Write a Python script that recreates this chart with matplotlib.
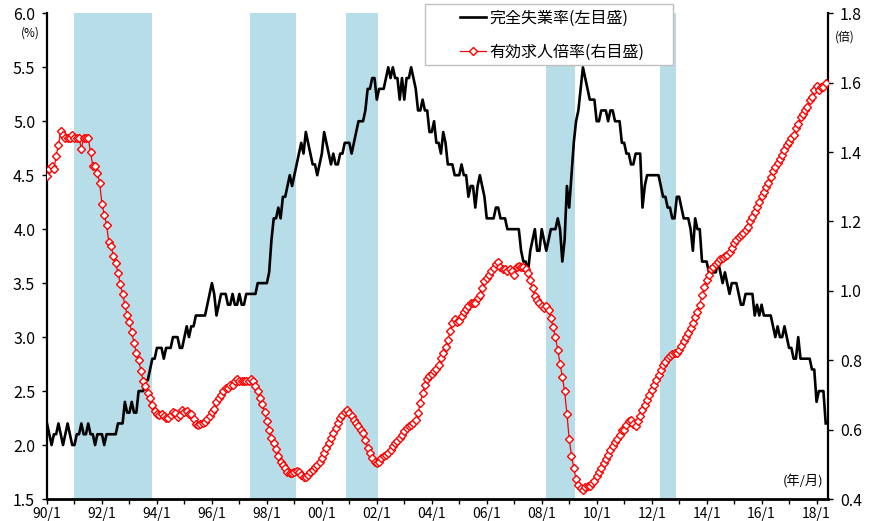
import matplotlib
matplotlib.use("Agg")
import matplotlib.pyplot as plt
from matplotlib.lines import Line2D
from matplotlib.patches import Rectangle
import numpy as np
import pandas as pd

plt.rcParams["font.family"] = ["Noto Sans CJK JP", "DejaVu Sans"]

RED = "#FF0000"
BAND = "#B7DDE8"
FRAME = "#BFBFBF"

# 完全失業率 (%), monthly from 1990/1 to 2018/5
unemployment = [
    2.2, 2.1, 2.0, 2.1, 2.1, 2.2, 2.1, 2.0, 2.1, 2.2, 2.1, 2.0,  # 1990
    2.0, 2.1, 2.1, 2.2, 2.1, 2.1, 2.2, 2.1, 2.1, 2.0, 2.1, 2.1,  # 1991
    2.1, 2.0, 2.1, 2.1, 2.1, 2.1, 2.1, 2.2, 2.2, 2.2, 2.4, 2.3,  # 1992
    2.3, 2.4, 2.3, 2.3, 2.5, 2.5, 2.5, 2.6, 2.6, 2.7, 2.8, 2.8,  # 1993
    2.9, 2.9, 2.9, 2.8, 2.9, 2.9, 2.9, 3.0, 3.0, 3.0, 2.9, 2.9,  # 1994
    3.0, 3.1, 3.0, 3.1, 3.1, 3.2, 3.2, 3.2, 3.2, 3.2, 3.3, 3.4,  # 1995
    3.5, 3.4, 3.2, 3.3, 3.4, 3.4, 3.4, 3.3, 3.3, 3.4, 3.3, 3.3,  # 1996
    3.4, 3.3, 3.3, 3.4, 3.4, 3.4, 3.4, 3.4, 3.5, 3.5, 3.5, 3.5,  # 1997
    3.5, 3.6, 3.9, 4.1, 4.1, 4.2, 4.1, 4.3, 4.3, 4.4, 4.5, 4.4,  # 1998
    4.5, 4.6, 4.7, 4.8, 4.7, 4.9, 4.8, 4.7, 4.6, 4.6, 4.5, 4.6,  # 1999
    4.7, 4.9, 4.8, 4.7, 4.6, 4.7, 4.6, 4.6, 4.7, 4.7, 4.8, 4.8,  # 2000
    4.8, 4.7, 4.8, 4.9, 5.0, 5.0, 5.0, 5.1, 5.3, 5.3, 5.4, 5.4,  # 2001
    5.2, 5.3, 5.3, 5.3, 5.4, 5.5, 5.4, 5.5, 5.4, 5.4, 5.2, 5.4,  # 2002
    5.2, 5.4, 5.4, 5.5, 5.4, 5.3, 5.1, 5.1, 5.2, 5.1, 5.1, 4.9,  # 2003
    4.9, 5.0, 4.8, 4.8, 4.7, 4.9, 4.8, 4.6, 4.6, 4.6, 4.5, 4.5,  # 2004
    4.5, 4.6, 4.5, 4.5, 4.3, 4.4, 4.4, 4.2, 4.4, 4.5, 4.4, 4.3,  # 2005
    4.1, 4.1, 4.1, 4.1, 4.2, 4.2, 4.1, 4.1, 4.1, 4.0, 4.0, 4.0,  # 2006
    4.0, 4.0, 4.0, 3.8, 3.7, 3.7, 3.6, 3.8, 3.9, 4.0, 3.8, 3.8,  # 2007
    4.0, 3.9, 3.8, 3.9, 4.0, 4.0, 4.0, 4.1, 4.0, 3.7, 3.9, 4.4,  # 2008
    4.2, 4.5, 4.8, 5.0, 5.1, 5.3, 5.5, 5.4, 5.3, 5.2, 5.2, 5.2,  # 2009
    5.0, 5.0, 5.1, 5.1, 5.1, 5.0, 5.1, 5.1, 5.0, 5.0, 5.0, 4.8,  # 2010
    4.8, 4.7, 4.7, 4.6, 4.6, 4.7, 4.7, 4.7, 4.2, 4.4, 4.5, 4.5,  # 2011
    4.5, 4.5, 4.5, 4.5, 4.4, 4.3, 4.3, 4.2, 4.2, 4.1, 4.1, 4.3,  # 2012
    4.3, 4.2, 4.1, 4.1, 4.1, 4.0, 3.8, 4.1, 4.0, 4.0, 3.7, 3.7,  # 2013
    3.7, 3.6, 3.6, 3.6, 3.6, 3.7, 3.6, 3.5, 3.6, 3.5, 3.4, 3.5,  # 2014
    3.5, 3.5, 3.4, 3.3, 3.3, 3.4, 3.4, 3.4, 3.4, 3.2, 3.3, 3.2,  # 2015
    3.3, 3.2, 3.2, 3.2, 3.2, 3.1, 3.0, 3.1, 3.0, 3.0, 3.1, 3.0,  # 2016
    2.9, 2.9, 2.8, 2.8, 3.0, 2.8, 2.8, 2.8, 2.8, 2.8, 2.7, 2.7,  # 2017
    2.4, 2.5, 2.5, 2.5, 2.2,                                      # 2018
]

# 有効求人倍率 (倍), monthly from 1990/1 to 2018/5
jobs_ratio = [
    1.33, 1.35, 1.36, 1.35, 1.39, 1.42, 1.46, 1.45, 1.44, 1.44, 1.44, 1.45,  # 1990
    1.44, 1.44, 1.44, 1.41, 1.44, 1.44, 1.44, 1.40, 1.36, 1.36, 1.34, 1.31,  # 1991
    1.25, 1.22, 1.19, 1.14, 1.13, 1.10, 1.08, 1.05, 1.02, 0.99, 0.96, 0.93,  # 1992
    0.91, 0.88, 0.85, 0.82, 0.80, 0.77, 0.74, 0.725, 0.705, 0.69, 0.67, 0.655,  # 1993
    0.645, 0.643, 0.645, 0.64, 0.633, 0.633, 0.643, 0.652, 0.648, 0.636, 0.643, 0.657,  # 1994
    0.65, 0.655, 0.645, 0.645, 0.63, 0.615, 0.612, 0.617, 0.62, 0.623, 0.63, 0.64,  # 1995
    0.65, 0.66, 0.68, 0.69, 0.70, 0.71, 0.72, 0.72, 0.73, 0.73, 0.74, 0.745,  # 1996
    0.74, 0.74, 0.74, 0.74, 0.74, 0.745, 0.74, 0.725, 0.71, 0.69, 0.675, 0.65,  # 1997
    0.625, 0.60, 0.575, 0.56, 0.545, 0.525, 0.508, 0.499, 0.489, 0.479, 0.475, 0.475,  # 1998
    0.478, 0.482, 0.478, 0.47, 0.463, 0.463, 0.47, 0.477, 0.485, 0.492, 0.499, 0.508,  # 1999
    0.518, 0.532, 0.547, 0.561, 0.576, 0.59, 0.604, 0.619, 0.633, 0.643, 0.652, 0.657,  # 2000
    0.648, 0.64, 0.628, 0.619, 0.609, 0.60, 0.59, 0.571, 0.547, 0.532, 0.518, 0.508,  # 2001
    0.504, 0.508, 0.518, 0.523, 0.528, 0.534, 0.542, 0.552, 0.561, 0.566, 0.575, 0.585,  # 2002
    0.595, 0.604, 0.609, 0.614, 0.619, 0.628, 0.648, 0.676, 0.705, 0.729, 0.745, 0.755,  # 2003
    0.76, 0.77, 0.775, 0.787, 0.806, 0.82, 0.838, 0.859, 0.883, 0.907, 0.918, 0.909,  # 2004
    0.912, 0.928, 0.94, 0.947, 0.955, 0.964, 0.966, 0.964, 0.979, 0.989, 1.008, 1.027,  # 2005
    1.036, 1.046, 1.056, 1.065, 1.078, 1.083, 1.07, 1.062, 1.062, 1.058, 1.062, 1.058,  # 2006
    1.046, 1.068, 1.072, 1.07, 1.068, 1.062, 1.051, 1.03, 1.008, 0.986, 0.974, 0.966,  # 2007
    0.955, 0.95, 0.957, 0.945, 0.921, 0.895, 0.866, 0.83, 0.79, 0.753, 0.71, 0.646,  # 2008
    0.573, 0.525, 0.489, 0.457, 0.441, 0.431, 0.427, 0.434, 0.438, 0.438, 0.446, 0.451,  # 2009
    0.465, 0.477, 0.489, 0.504, 0.515, 0.527, 0.542, 0.553, 0.563, 0.573, 0.585, 0.598,  # 2010
    0.60, 0.614, 0.624, 0.628, 0.617, 0.609, 0.624, 0.64, 0.657, 0.672, 0.686, 0.70,  # 2011
    0.715, 0.729, 0.744, 0.758, 0.772, 0.787, 0.796, 0.806, 0.813, 0.818, 0.82, 0.822,  # 2012
    0.83, 0.841, 0.854, 0.867, 0.878, 0.892, 0.907, 0.924, 0.94, 0.96, 0.988, 1.01,  # 2013
    1.032, 1.046, 1.062, 1.07, 1.078, 1.084, 1.091, 1.094, 1.099, 1.104, 1.113, 1.123,  # 2014
    1.139, 1.147, 1.155, 1.161, 1.166, 1.176, 1.185, 1.20, 1.214, 1.228, 1.243, 1.257,  # 2015
    1.272, 1.286, 1.30, 1.312, 1.329, 1.344, 1.356, 1.368, 1.379, 1.392, 1.406, 1.421,  # 2016
    1.43, 1.44, 1.45, 1.47, 1.48, 1.50, 1.51, 1.52, 1.53, 1.55, 1.56, 1.58,  # 2017
    1.59, 1.58, 1.587, 1.587, 1.60,  # 2018
]

# 景気後退期 (shaded)
recession_start = ["1990/12", "1997/5", "2000/11", "2008/2", "2012/4"]
recession_end = ["1993/10", "1999/1", "2002/1", "2009/3", "2012/11"]

legend_labels = ["完全失業率(左目盛)", "有効求人倍率(右目盛)"]

months = pd.period_range("1990-01", periods=len(unemployment), freq="M")
x = np.arange(len(months))
index_of = {f"{p.year}/{p.month}": i for i, p in enumerate(months)}

W, H = 883, 521
fig = plt.figure(figsize=(W / 100, H / 100), dpi=100)
ax = fig.add_axes([47 / W, 1 - 499 / H, (828 - 47) / W, (499 - 13.3) / H])
ax2 = ax.twinx()

for start, end in zip(recession_start, recession_end):
    ax.axvspan(index_of[start] + 0.7, index_of[end] + 0.7, color=BAND, lw=0, zorder=0)

ax.plot(x, unemployment, color="black", lw=1.9, zorder=3)
ax2.plot(x, jobs_ratio, color=RED, lw=0.9, marker="D", ms=3.6,
         mfc="white", mec=RED, mew=1.0, zorder=4)

ax.set_xlim(0, 341)
ax.set_ylim(1.5, 6.0)
ax2.set_ylim(0.4, 1.8)

major = [i for i, p in enumerate(months) if p.month == 1 and p.year % 2 == 0]
minor = [i for i, p in enumerate(months) if p.month == 1 and p.year % 2 == 1]
ax.set_xticks(major, [f"{months[i].year % 100:02d}/1" for i in major])
ax.set_xticks(minor, minor=True)

left_ticks = np.arange(1.5, 6.01, 0.5)
right_ticks = np.arange(0.4, 1.81, 0.2)
ax.set_yticks(left_ticks, [f"{v:.1f}" for v in left_ticks])
ax2.set_yticks(right_ticks, [f"{v:.1f}" for v in right_ticks])

for a in (ax, ax2):
    a.spines["top"].set_visible(False)
ax.spines["right"].set_visible(False)
ax2.spines["left"].set_visible(False)
ax.spines["left"].set_linewidth(1.6)
ax.spines["bottom"].set_linewidth(2.0)
ax2.spines["right"].set_linewidth(1.6)
ax2.spines["bottom"].set_visible(False)

ax.tick_params(axis="y", direction="out", length=3.5, width=1, labelsize=11.5, pad=5)
ax2.tick_params(axis="y", direction="out", length=3.5, width=1, labelsize=11.5, pad=5)
ax.tick_params(axis="x", which="both", direction="out", length=3.5, width=1,
               labelsize=10, pad=2)

fig.text(30 / W, 1 - 33 / H, "(%)", ha="center", va="center", fontsize=8.5)
fig.text(845 / W, 1 - 37 / H, "(倍)", ha="center", va="center", fontsize=8.5)
fig.text(803 / W, 1 - 482 / H, "(年/月)", ha="center", va="center", fontsize=9.5)

fig.add_artist(Rectangle((425 / W, 1 - 65 / H), 248 / W, 61 / H, transform=fig.transFigure,
                         facecolor="white", edgecolor=FRAME, lw=1, zorder=4))
handles = [
    Line2D([], [], color="black", lw=1.9),
    Line2D([], [], color=RED, lw=0.9, marker="D", ms=3.6, mfc="white", mec=RED, mew=1.0),
]
fig.legend(handles, legend_labels, loc="center left", bbox_to_anchor=(452 / W, 1 - 35 / H),
           frameon=False, borderpad=0, handlelength=1.65, handletextpad=0.2,
           labelspacing=1.05, fontsize=11.5)

fig.savefig("out.png", dpi=100)
